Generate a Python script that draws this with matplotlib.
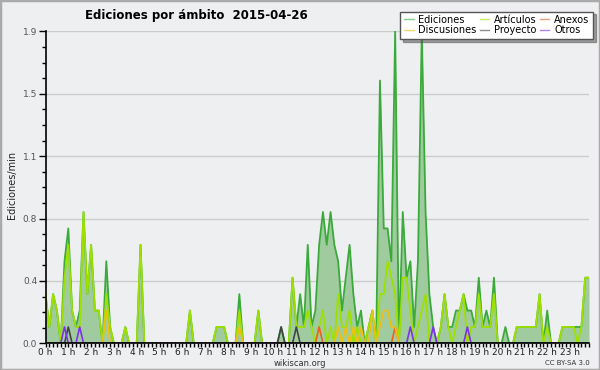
import numpy as np
import matplotlib
matplotlib.use("Agg")
import matplotlib.pyplot as plt
from matplotlib.patches import Rectangle

# ---- data (10-minute bins, edits per minute) ----
def series(pairs, n=144):
    a = [0.0] * n
    for k, v in pairs.items():
        a[k] = v
    return a

ediciones_vals = {
    0: 0.3, 1: 0.1, 2: 0.3, 3: 0.2, 5: 0.5, 6: 0.7, 7: 0.2, 8: 0.1, 9: 0.2,
    10: 0.8, 11: 0.3, 12: 0.6, 13: 0.2, 14: 0.2, 16: 0.5, 17: 0.1, 21: 0.1,
    25: 0.6, 38: 0.2, 45: 0.1, 46: 0.1, 47: 0.1, 51: 0.3, 56: 0.2, 62: 0.1,
    65: 0.4, 66: 0.1, 67: 0.3, 68: 0.1, 69: 0.6, 70: 0.1, 71: 0.2, 72: 0.6,
    73: 0.8, 74: 0.6, 75: 0.8, 76: 0.6, 77: 0.5, 78: 0.2, 79: 0.4, 80: 0.6,
    81: 0.3, 82: 0.1, 83: 0.2, 85: 0.1, 86: 0.2, 88: 1.6, 89: 0.7, 90: 0.7,
    91: 0.5, 92: 1.9, 94: 0.8, 95: 0.4, 96: 0.5, 97: 0.1, 98: 0.5, 99: 1.9,
    100: 0.8, 101: 0.3, 102: 0.1, 104: 0.1, 105: 0.3, 106: 0.1, 107: 0.1,
    108: 0.2, 109: 0.2, 110: 0.3, 111: 0.2, 112: 0.2, 113: 0.1, 114: 0.4,
    115: 0.1, 116: 0.2, 117: 0.1, 118: 0.4, 121: 0.1, 124: 0.1, 125: 0.1,
    126: 0.1, 127: 0.1, 128: 0.1, 129: 0.1, 130: 0.3, 132: 0.2, 136: 0.1,
    137: 0.1, 138: 0.1, 139: 0.1, 140: 0.1, 141: 0.1, 142: 0.4, 143: 0.4,
}
articulos_vals = {
    0: 0.3, 1: 0.1, 2: 0.3, 3: 0.2, 5: 0.4, 6: 0.6, 7: 0.2, 8: 0.1, 9: 0.1,
    10: 0.8, 11: 0.3, 12: 0.6, 13: 0.2, 14: 0.2, 16: 0.3, 17: 0.1, 21: 0.1,
    25: 0.6, 38: 0.2, 45: 0.1, 46: 0.1, 47: 0.1, 51: 0.2, 56: 0.2, 65: 0.4,
    66: 0.1, 67: 0.1, 68: 0.1, 69: 0.2, 70: 0.1, 72: 0.1, 73: 0.2, 75: 0.1,
    77: 0.3, 78: 0.1, 79: 0.1, 80: 0.2, 82: 0.1, 85: 0.1, 86: 0.2, 88: 0.3,
    89: 0.3, 90: 0.5, 91: 0.4, 92: 0.3, 94: 0.4, 95: 0.4, 96: 0.2, 98: 0.1,
    99: 0.2, 100: 0.3, 104: 0.1, 105: 0.3, 106: 0.1, 108: 0.1, 109: 0.2,
    110: 0.3, 112: 0.1, 113: 0.1, 114: 0.3, 115: 0.1, 116: 0.1, 117: 0.1,
    118: 0.3, 124: 0.1, 125: 0.1, 126: 0.1, 127: 0.1, 128: 0.1, 129: 0.1,
    130: 0.3, 132: 0.1, 136: 0.1, 137: 0.1, 138: 0.1, 139: 0.1, 141: 0.1,
    142: 0.4, 143: 0.4,
}
discusiones_vals = {16: 0.2, 51: 0.1, 77: 0.1, 79: 0.1, 81: 0.1, 83: 0.1,
                    86: 0.2, 88: 0.1, 89: 0.2, 90: 0.2, 91: 0.1, 92: 0.1}
anexos_vals = {72: 0.1, 92: 0.1}
proyecto_vals = {6: 0.1, 62: 0.1, 66: 0.1}
otros_vals = {5: 0.1, 9: 0.1, 96: 0.1, 102: 0.1, 111: 0.1}

ediciones = series(ediciones_vals)
articulos = series(articulos_vals)
discusiones = series(discusiones_vals)
anexos = series(anexos_vals)
proyecto = series(proyecto_vals)
otros = series(otros_vals)

hour_labels = [f"{h} h" for h in range(24)]
ytick_vals = [0.0, 0.38, 0.76, 1.14, 1.52, 1.9]
ytick_labels = ["0.0", "0.4", "0.8", "1.1", "1.5", "1.9"]

# ---- figure ----
bg = "#eeeff1"
fig = plt.figure(figsize=(6.0, 3.7), dpi=100, facecolor=bg)
ax = fig.add_axes([45.5 / 600, 26.6 / 370, 543.5 / 600, 312.1 / 370])
ax.set_facecolor(bg)

x = np.arange(len(ediciones))
ax.fill_between(x, ediciones, 0, color="#9fcb9f", lw=0, zorder=1)
ax.plot(x, ediciones, color="#3aaa3a", lw=1.3, zorder=2, label="Ediciones")
ax.plot(x, articulos, color="#9ee000", lw=1.3, zorder=2.1, label="Artículos")
ax.plot(x, anexos, color="#ee6020", lw=1.2, zorder=2.2, label="Anexos")
ax.plot(x, discusiones, color="#f0c010", lw=1.2, zorder=2.2, label="Discusiones")
ax.plot(x, proyecto, color="#444444", lw=1.2, zorder=2.2, label="Proyecto")
ax.plot(x, otros, color="#8030f0", lw=1.2, zorder=2.2, label="Otros")

ax.set_xlim(0, 143)
ax.set_ylim(0, 1.9)
ax.set_xticks(np.arange(0, 144, 6))
ax.set_xticklabels(hour_labels, fontsize=6.5, color="#222222")
ax.set_xticks(np.arange(0, 144), minor=True)
ax.set_yticks(ytick_vals)
ax.set_yticklabels(ytick_labels, fontsize=6.5, color="#555555")
ax.set_yticks(np.arange(0, 1.9, 0.095), minor=True)
ax.tick_params(axis="x", which="both", direction="out", length=3, width=1,
               color="black", pad=0.5)
ax.tick_params(axis="y", which="major", direction="out", length=5, width=1,
               color="black", pad=1)
ax.tick_params(axis="y", which="minor", direction="out", length=3, width=1,
               color="black")
for s in ("top", "right"):
    ax.spines[s].set_visible(False)
for s in ("left", "bottom"):
    ax.spines[s].set_linewidth(1.2)
    ax.spines[s].set_zorder(3)
ax.set_axisbelow(True)
ax.yaxis.grid(True, which="major", color="#cccccc", lw=1)

h, l = ax.get_legend_handles_labels()
order = ["Ediciones", "Discusiones", "Artículos", "Proyecto", "Anexos", "Otros"]
hh = [h[l.index(o)] for o in order]
leg = fig.legend(hh, order, ncol=3, loc="upper right",
                 bbox_to_anchor=(593 / 600, 1 - 11.5 / 370), fontsize=7,
                 frameon=True, fancybox=False, shadow=True, handlelength=1.0,
                 handletextpad=0.5, columnspacing=0.3, labelspacing=0.05,
                 borderpad=0.35, borderaxespad=0)
leg.get_frame().set_edgecolor("#555555")
leg.get_frame().set_facecolor("white")
leg.get_frame().set_linewidth(1.0)
for lh in leg.get_lines():
    lh.set_alpha(0.6)
    lh.set_linewidth(1.0)

fig.text(85 / 600, 1 - 16 / 370, "Ediciones por ámbito  2015-04-26",
         fontsize=8.5, fontweight="bold", ha="left", va="center")
fig.text(12 / 600, 1 - 185 / 370, "Ediciones/min", rotation=90,
         fontsize=7, ha="center", va="center", color="#222222")
fig.text(300 / 600, 1 - 363 / 370, "wikiscan.org", fontsize=6,
         ha="center", va="center", color="#333333")
fig.text(590 / 600, 1 - 363 / 370, "CC BY-SA 3.0", fontsize=5,
         ha="right", va="center", color="#333333")
fig.patches.append(Rectangle((0, 0), 1, 1, transform=fig.transFigure,
                             fill=False, edgecolor="#aaaaaa", lw=2.5))

fig.savefig("out.png", dpi=100, facecolor=bg)
